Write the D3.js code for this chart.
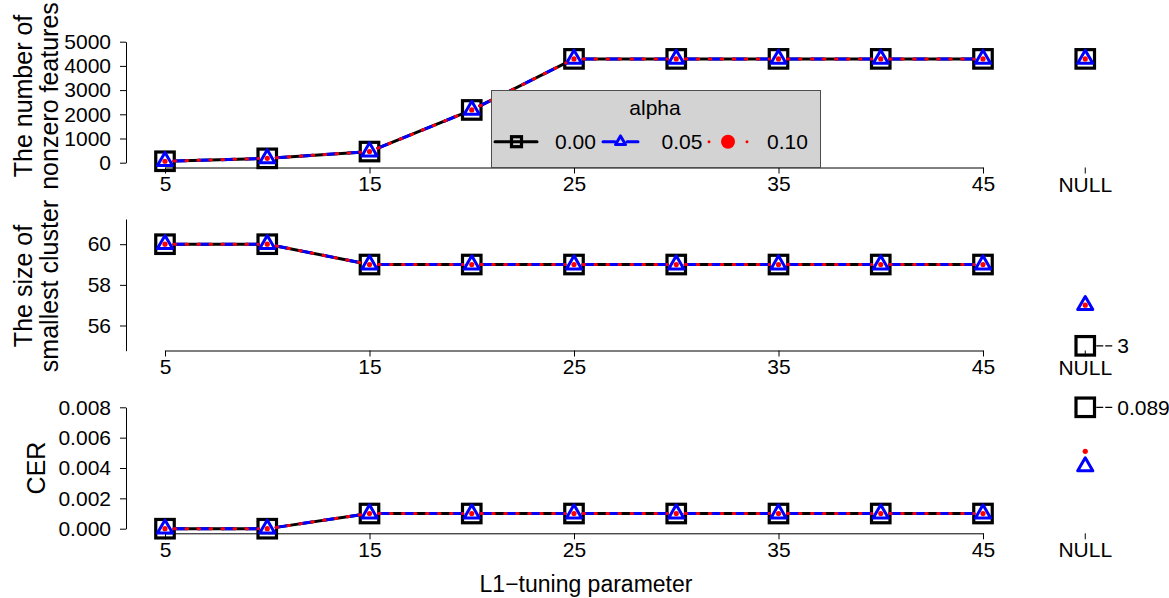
<!DOCTYPE html>
<html>
<head>
<meta charset="utf-8">
<script src="https://cdn.jsdelivr.net/npm/d3@7"></script>
<style>
body { margin: 0; background: #fff; }
text { font-family: "Liberation Sans", Arial, sans-serif; fill: #000; }
</style>
</head>
<body>
<svg id="chart" width="1169" height="598"></svg>
<script>
// tuning parameter values and alpha levels
var lambdas = [5, 10, 15, 20, 25, 30, 35, 40, 45];
var xTicks = [5, 15, 25, 35, 45];
var alphas = ["0.00", "0.05", "0.10"];

// panel 1: number of nonzero features
var nonzero00 = [60, 180, 460, 2180, 4290, 4290, 4290, 4290, 4290];
var nonzero05 = [60, 180, 460, 2180, 4290, 4290, 4290, 4290, 4290];
var nonzero10 = [60, 180, 460, 2180, 4290, 4290, 4290, 4290, 4290];
var nonzeroNull = [4290, 4290, 4290];
var nonzeroTicks = [0, 1000, 2000, 3000, 4000, 5000];

// panel 2: size of smallest cluster
var size00 = [60, 60, 59, 59, 59, 59, 59, 59, 59];
var size05 = [60, 60, 59, 59, 59, 59, 59, 59, 59];
var size10 = [60, 60, 59, 59, 59, 59, 59, 59, 59];
var sizeNull = [3, 57, 57];
var sizeTicks = [56, 58, 60];

// panel 3: CER
var cer00 = [0, 0, 0.001, 0.001, 0.001, 0.001, 0.001, 0.001, 0.001];
var cer05 = [0, 0, 0.001, 0.001, 0.001, 0.001, 0.001, 0.001, 0.001];
var cer10 = [0, 0, 0.001, 0.001, 0.001, 0.001, 0.001, 0.001, 0.001];
var cerNull = [0.089, 0.0041, 0.0051];
var cerTicks = [0, 0.002, 0.004, 0.006, 0.008];

var svg = d3.select("#chart");
var font = 21;

var x = d3.scaleLinear().domain([5, 50]).range([165, 1085.25]);
var xAxisScale = d3.scaleLinear().domain([5, 45]).range([x(5), x(45)]);

var styles = [
  { color: "#000000", dash: null, marker: "square" },
  { color: "#0000ff", dash: "12,12", marker: "triangle" },
  { color: "#ff0000", dash: "1.5,10.5", marker: "dot" }
];

function marker(g, type, cx, cy, big) {
  if (type == "square") {
    var s = big ? 18.5 : 10;
    g.append("rect").attr("x", cx - s / 2).attr("y", cy - s / 2)
      .attr("width", s).attr("height", s)
      .attr("fill", "none").attr("stroke", "#000").attr("stroke-width", 3.2);
  } else if (type == "triangle") {
    var k = big ? 5.6 : 3.7;
    var pts = [[cx, cy - 1.555 * k], [cx + 1.347 * k, cy + 0.778 * k], [cx - 1.347 * k, cy + 0.778 * k]];
    g.append("path").attr("d", "M" + pts.join("L") + "Z")
      .attr("fill", "none").attr("stroke", "#0000ff").attr("stroke-width", 3)
      .attr("stroke-linejoin", "round");
  } else {
    g.append("circle").attr("cx", cx).attr("cy", cy).attr("r", big ? 2.6 : 7)
      .attr("fill", "#ff0000");
  }
}

function panel(opt) {
  var g = svg.append("g");
  var y = opt.y;

  // y axis
  var ya = g.append("g").attr("transform", "translate(126,0)")
    .call(d3.axisLeft(y).tickValues(opt.ticks).tickFormat(opt.fmt)
      .tickSize(6).tickSizeOuter(0).tickPadding(9));
  ya.selectAll("text").style("font-size", font + "px").attr("font-family", null);

  // x axis
  var xa = g.append("g").attr("transform", "translate(0," + opt.xAxisY + ")")
    .call(d3.axisBottom(xAxisScale).tickValues(xTicks).tickFormat(d3.format("d"))
      .tickSize(6).tickSizeOuter(0).tickPadding(3));
  xa.selectAll("text").style("font-size", font + "px").attr("font-family", null);
  g.selectAll(".domain, .tick line").attr("stroke", "#000");

  // NULL tick
  g.append("line").attr("x1", x(50)).attr("x2", x(50))
    .attr("y1", opt.xAxisY).attr("y2", opt.xAxisY + 6).attr("stroke", "#000");
  g.append("text").attr("x", x(50)).attr("y", opt.xAxisY + 24)
    .attr("text-anchor", "middle").style("font-size", font + "px").text("NULL");

  // y title
  var t = g.append("text")
    .attr("transform", "translate(" + opt.titleX + "," + opt.titleY + ") rotate(-90)")
    .attr("text-anchor", "middle").style("font-size", "25px");
  opt.title.forEach(function (line, i) {
    t.append("tspan").attr("x", 0).attr("dy", i == 0 ? 0 : 26.5).text(line);
  });

  // series
  var gap = 9;
  opt.series.forEach(function (vals, si) {
    var st = styles[si];
    var pts = lambdas.map(function (l, i) { return [x(l), y(vals[i])]; });
    d3.pairs(pts).forEach(function (p) {
      var dx = p[1][0] - p[0][0], dy = p[1][1] - p[0][1];
      var len = Math.sqrt(dx * dx + dy * dy);
      if (len <= 2 * gap) return;
      var ux = dx / len, uy = dy / len;
      g.append("line")
        .attr("x1", p[0][0] + ux * gap).attr("y1", p[0][1] + uy * gap)
        .attr("x2", p[1][0] - ux * gap).attr("y2", p[1][1] - uy * gap)
        .attr("stroke", st.color).attr("stroke-width", 3)
        .attr("stroke-linecap", "round")
        .attr("stroke-dasharray", st.dash);
    });
    pts.forEach(function (p) { marker(g, st.marker, p[0], p[1], true); });
  });

  // NULL points (off-scale values pinned to the plot edge with a label)
  opt.nullVals.forEach(function (v, si) {
    var vv = Math.max(opt.clip[0], Math.min(opt.clip[1], v));
    var cy = y(vv);
    marker(g, styles[si].marker, x(50), cy, true);
    if (vv != v) {
      g.append("line").attr("x1", x(50) + 11).attr("x2", x(50) + 27)
        .attr("y1", cy).attr("y2", cy).attr("stroke", "#000").attr("stroke-width", 1.2)
        .attr("stroke-dasharray", "7,2");
      g.append("text").attr("x", x(50) + 32).attr("y", cy + 7.5)
        .style("font-size", font + "px").text(opt.fmtNull(v));
    }
  });
  return g;
}

panel({
  y: d3.scaleLinear().domain([0, 5000]).range([162.7, 41.7]),
  ticks: nonzeroTicks, fmt: d3.format("d"), xAxisY: 167.5,
  title: ["The number of", "nonzero features"], titleX: 31.5, titleY: 96,
  series: [nonzero00, nonzero05, nonzero10], nullVals: nonzeroNull,
  clip: [0, 5000], fmtNull: d3.format("d")
});

panel({
  y: d3.scaleLinear().domain([54.76, 61.24]).range([350.7, 219]),
  ticks: sizeTicks, fmt: d3.format("d"), xAxisY: 350.5,
  title: ["The size of", "smallest cluster"], titleX: 31.5, titleY: 286,
  series: [size00, size05, size10], nullVals: sizeNull,
  clip: [55, 61], fmtNull: d3.format("d")
});

panel({
  y: d3.scaleLinear().domain([0, 0.008]).range([528.7, 407.3]),
  ticks: cerTicks, fmt: d3.format(".3f"), xAxisY: 533.3,
  title: ["CER"], titleX: 45, titleY: 468,
  series: [cer00, cer05, cer10], nullVals: cerNull,
  clip: [0, 0.008], fmtNull: function (v) { return String(v); }
});

// legend
var lg = svg.append("g");
lg.append("rect").attr("x", 491.5).attr("y", 90.5).attr("width", 329).attr("height", 77)
  .attr("fill", "#d3d3d3").attr("stroke", "#4d4d4d").attr("stroke-width", 1);
lg.append("text").attr("x", 655).attr("y", 115).attr("text-anchor", "middle")
  .style("font-size", font + "px").text("alpha");
var ly = 141.7;
var legendPos = [
  { x1: 495, x2: 537, mx: 516.5, tx: 555, dash: null },
  { x1: 603, x2: 638, mx: 620.5, tx: 661.5, dash: "12,12" },
  { x1: 709, x2: 747.5, mx: 728, tx: 767, dash: "0.01,18.99" }
];
alphas.forEach(function (a, i) {
  var p = legendPos[i], st = styles[i];
  lg.append("line").attr("x1", p.x1).attr("x2", p.x2).attr("y1", ly).attr("y2", ly)
    .attr("stroke", st.color).attr("stroke-width", 3).attr("stroke-linecap", "round")
    .attr("stroke-dasharray", p.dash);
  marker(lg, st.marker, p.mx, ly, false);
  lg.append("text").attr("x", p.tx).attr("y", ly + 7.5).style("font-size", font + "px").text(a);
});

// x title
svg.append("text").attr("x", 586).attr("y", 592).attr("text-anchor", "middle")
  .style("font-size", "23px").text("L1\u2212tuning parameter");
</script>
</body>
</html>
